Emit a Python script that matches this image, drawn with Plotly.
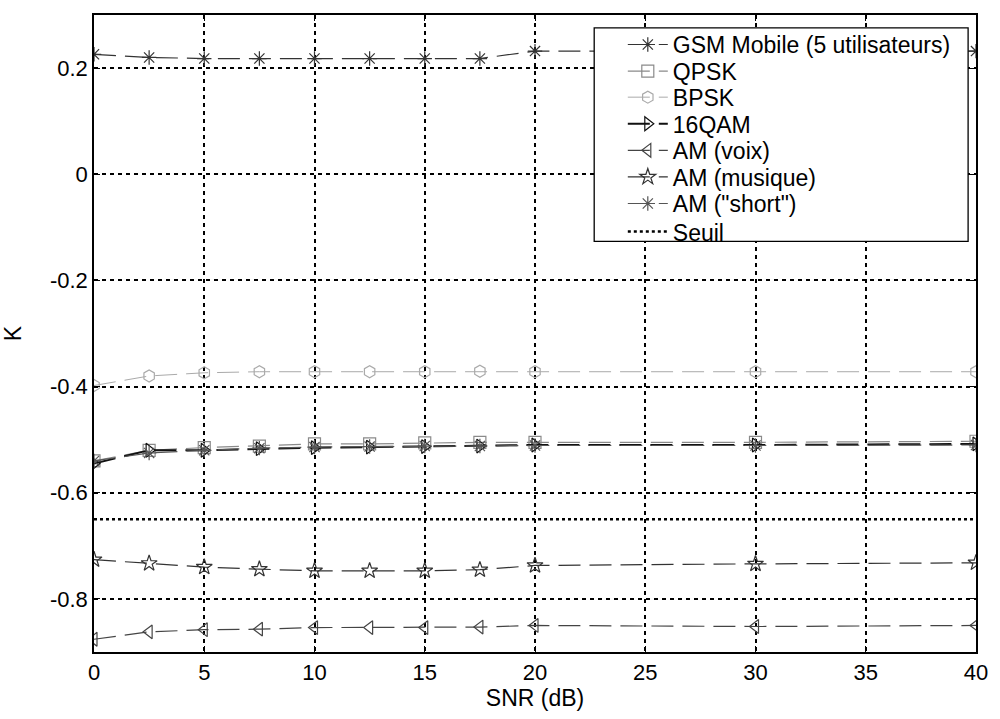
import plotly.graph_objects as go

snr = [0, 2.5, 5, 7.5, 10, 12.5, 15, 17.5, 20, 30, 40]

gsm = [0.226, 0.220, 0.218, 0.218, 0.218, 0.218, 0.218, 0.218, 0.232, 0.232, 0.232]
qpsk = [-0.540, -0.520, -0.515, -0.512, -0.508, -0.508, -0.506, -0.505, -0.505, -0.505, -0.503]
bpsk = [-0.398, -0.380, -0.374, -0.372, -0.372, -0.372, -0.372, -0.371, -0.372, -0.372, -0.372]
qam16 = [-0.545, -0.520, -0.520, -0.517, -0.515, -0.514, -0.513, -0.512, -0.510, -0.510, -0.508]
am_voix = [-0.876, -0.862, -0.858, -0.857, -0.854, -0.854, -0.854, -0.853, -0.850, -0.852, -0.850]
am_musique = [-0.726, -0.733, -0.740, -0.744, -0.747, -0.747, -0.747, -0.745, -0.737, -0.734, -0.732]
am_short = [-0.540, -0.525, -0.520, -0.516, -0.514, -0.513, -0.512, -0.512, -0.511, -0.511, -0.510]
seuil_x = [0, 40]
seuil_y = [-0.65, -0.65]

names = ["GSM Mobile (5 utilisateurs)", "QPSK", "BPSK", "16QAM", "AM (voix)",
         "AM (musique)", "AM (\"short\")", "Seuil"]
series = [gsm, qpsk, bpsk, qam16, am_voix, am_musique, am_short]
colors = ["#333333", "#8a8a8a", "#aaaaaa", "#111111", "#444444", "#333333", "#555555"]
symbols = ["asterisk-open", "square-open", "hexagon-open", "triangle-right-open",
           "triangle-left-open", "star-open", "asterisk-open"]
widths = [1.2, 1.2, 1.0, 2.0, 1.2, 1.2, 1.2]

xticks = [0, 5, 10, 15, 20, 25, 30, 35, 40]
yticks = [-0.8, -0.6, -0.4, -0.2, 0, 0.2]
yticktext = ["-0.8", "-0.6", "-0.4", "-0.2", "0", "0.2"]

# plot-area geometry in pixels (for legend placement)
W, H = 1000, 719
L, R, T, B = 91, 15, 15, 57
pw, ph = W - L - R, H - T - B


def px_x(p):
    return (p - L) / pw


def px_y(p):
    return (H - B - p) / ph


legend_ids = ["legend"] + ["legend%d" % i for i in range(2, 9)]
entry_y = [45, 72, 98.5, 125.5, 152.5, 179.5, 206.5, 235]

fig = go.Figure()
for i, (name, ys, c, s, w) in enumerate(zip(names, series, colors, symbols, widths)):
    fig.add_trace(go.Scatter(
        x=snr, y=ys, name=name, mode="lines+markers", legend=legend_ids[i],
        line=dict(color=c, width=w, dash="22px,9px"),
        marker=dict(symbol=s, size=12, color=c, line=dict(color=c, width=1.2)),
    ))
fig.add_trace(go.Scatter(
    x=seuil_x, y=seuil_y, name=names[7], mode="lines", legend=legend_ids[7],
    line=dict(color="#000000", width=2.5, dash="dot"),
))

font = "Liberation Sans, Arial, Helvetica, sans-serif"
legends = {}
for lid, yy in zip(legend_ids, entry_y):
    legends[lid] = dict(
        x=px_x(627), y=px_y(yy), xanchor="left", yanchor="middle",
        bgcolor="rgba(0,0,0,0)", borderwidth=0,
        font=dict(family=font, size=23, color="black"),
        itemwidth=40,
    )

fig.update_layout(
    width=W, height=H,
    margin=dict(l=L, r=R, t=T, b=B),
    paper_bgcolor="white", plot_bgcolor="white",
    font=dict(family=font, size=22, color="black"),
    showlegend=True,
    shapes=[dict(
        type="rect", xref="paper", yref="paper", layer="above",
        x0=px_x(598), x1=px_x(977), y0=px_y(245), y1=px_y(28),
        fillcolor="white", line=dict(color="black", width=1.3),
    )],
    xaxis=dict(
        range=[0, 40], tickvals=xticks, ticktext=[str(t) for t in xticks],
        showgrid=True, gridcolor="black", gridwidth=1.5, griddash="4px,4px",
        zeroline=False, showline=True, linecolor="black", linewidth=1.5,
        mirror="ticks", ticks="inside", ticklen=6, tickcolor="black",
        title=dict(text="SNR (dB)", standoff=6, font=dict(size=23)),
    ),
    yaxis=dict(
        range=[-0.9, 0.3], tickvals=yticks, ticktext=yticktext,
        showgrid=True, gridcolor="black", gridwidth=1.5, griddash="4px,4px",
        zeroline=False, showline=True, linecolor="black", linewidth=1.5,
        mirror="ticks", ticks="inside", ticklen=6, tickcolor="black",
        title=dict(text="K", standoff=22, font=dict(size=23)),
    ),
    **legends,
)

fig.write_html("out.html")
